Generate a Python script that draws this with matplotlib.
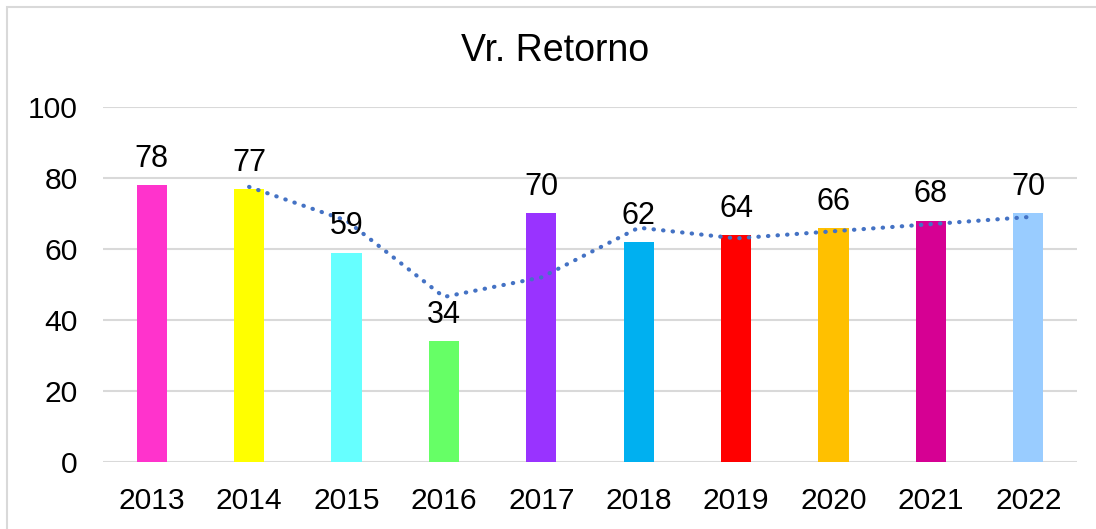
import matplotlib.pyplot as plt
from matplotlib.patches import Rectangle

years = ["2013", "2014", "2015", "2016", "2017", "2018", "2019", "2020", "2021", "2022"]
values = [78, 77, 59, 34, 70, 62, 64, 66, 68, 70]
colors = ["#FF33CC", "#FFFF00", "#66FFFF", "#66FF66", "#9933FF",
          "#00B0F0", "#FF0000", "#FFC000", "#D60093", "#99CCFF"]
# dotted trend line (starts at 2014)
trend = [None, 77.5, 68, 46.5, 52, 66, 63, 65, 67, 69]

plt.rcParams['font.family'] = ['Liberation Sans', 'DejaVu Sans']

fig = plt.figure(figsize=(10.96, 5.29), dpi=100)
ax = fig.add_axes([103 / 1096, 67 / 529, 974 / 1096, 355 / 529])

x = list(range(len(years)))
ax.bar(x, values, width=0.31, color=colors, zorder=3)

tx = [i for i, t in zip(x, trend) if t is not None]
ty = [t for t in trend if t is not None]
ax.plot(tx, ty, color="#4472C4", linestyle=(0, (0.1, 2.2)), linewidth=3,
        dash_capstyle="round", zorder=4)

for i, v in zip(x, values):
    ax.annotate(str(v), (i, v), xytext=(0, 8), textcoords="offset points",
                ha="center", va="bottom", fontsize=22, color="black", zorder=5)

ax.set_xlim(-0.5, len(years) - 0.5)
ax.set_ylim(0, 100)
ax.set_yticks([0, 20, 40, 60, 80, 100])
ax.set_xticks(x)
ax.set_xticklabels(years)
ax.tick_params(axis="both", length=0, labelsize=21.6, colors="black")
ax.tick_params(axis="y", pad=18)
ax.tick_params(axis="x", pad=18)
ax.grid(axis="y", color="#D9D9D9", linewidth=1.5, zorder=0)
for s in ax.spines.values():
    s.set_visible(False)

fig.text(555 / 1096, 1 - 51 / 529, "Vr. Retorno", ha="center", va="center",
         fontsize=27, color="black")

fig.patches.append(Rectangle((7 / 1096, -0.1), 1.2, 1 - 7 / 529 + 0.1,
                             transform=fig.transFigure, fill=False,
                             edgecolor="#D9D9D9", linewidth=1.5))

fig.savefig("out.png", dpi=100)
